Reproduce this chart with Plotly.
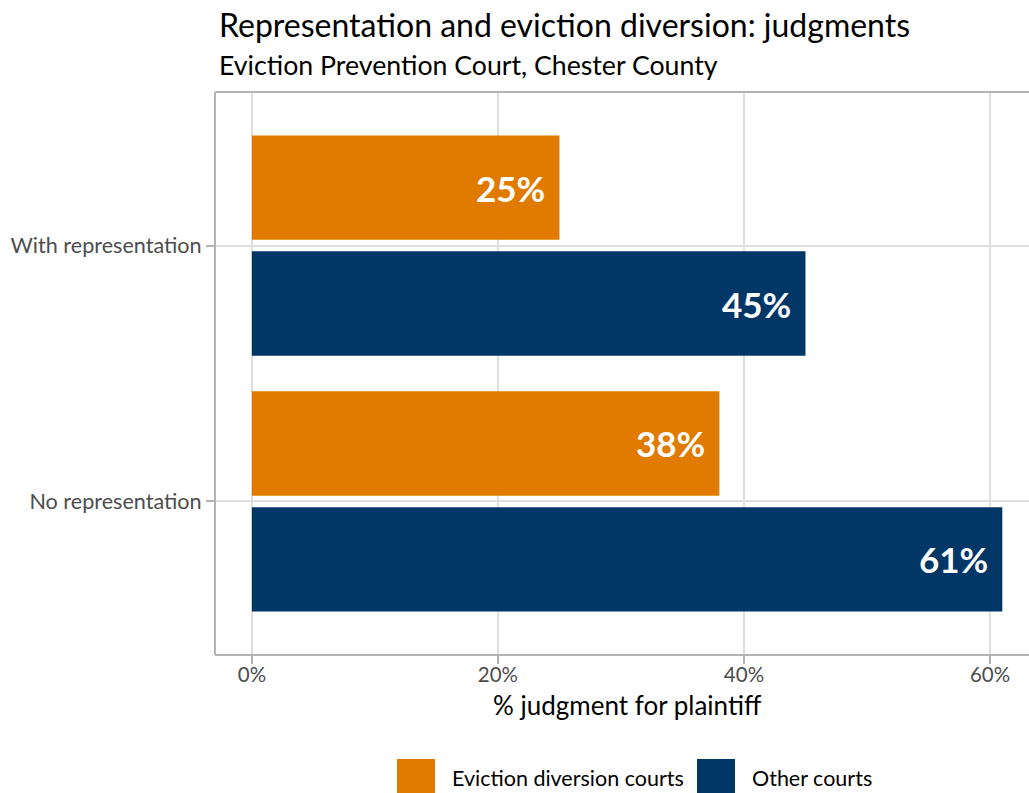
import plotly.graph_objects as go

# Data: share of cases ending in a judgment for the plaintiff (%)
categories = ["No representation", "With representation"]
diversion_courts = [38, 25]   # Eviction diversion courts
other_courts = [61, 45]       # Other courts
x_ticks = [0, 20, 40, 60]
x_tick_labels = ["0%", "20%", "40%", "60%"]

ORANGE = "#E07B00"
NAVY = "#003767"
FONT = "Lato"

W, H = 1029, 793
M_L, M_R, M_T, M_B = 215, 0, 92, 138
PLOT_W = W - M_L - M_R
PLOT_H = H - M_T - M_B


def px_x(p):
    return (p - M_L) / PLOT_W


def px_y(p):
    return (H - M_B - p) / PLOT_H


BAR_W = 0.408
HALF_GAP = 0.0225

fig = go.Figure()
fig.add_trace(go.Bar(
    y=categories, x=diversion_courts, orientation="h",
    name="Eviction diversion courts", marker=dict(color=ORANGE, line_width=0),
    width=BAR_W, offset=HALF_GAP, showlegend=False, hoverinfo="x+name",
))
fig.add_trace(go.Bar(
    y=categories, x=other_courts, orientation="h",
    name="Other courts", marker=dict(color=NAVY, line_width=0),
    width=BAR_W, offset=-HALF_GAP - BAR_W, showlegend=False, hoverinfo="x+name",
))

# Value labels inside the bar ends
annotations = []
for vals, off in [(diversion_courts, HALF_GAP + BAR_W / 2), (other_courts, -HALF_GAP - BAR_W / 2)]:
    for i, v in enumerate(vals):
        annotations.append(dict(
            x=v, y=i + off, xref="x", yref="y", text=f"<b>{v}%</b>",
            showarrow=False, xanchor="right", yanchor="middle", xshift=-12,
            font=dict(family=FONT, size=35, color="white"),
        ))

# Title, subtitle and axis title
annotations += [
    dict(x=0.0025, y=px_y(25), xref="paper", yref="paper", xanchor="left", yanchor="middle",
         text="Representation and eviction diversion: judgments", showarrow=False,
         font=dict(family=FONT, size=32, color="black")),
    dict(x=0.0025, y=px_y(65), xref="paper", yref="paper", xanchor="left", yanchor="middle",
         text="Eviction Prevention Court, Chester County", showarrow=False,
         font=dict(family=FONT, size=26.7, color="black")),
    dict(x=px_x(627), y=px_y(705), xref="paper", yref="paper", xanchor="center", yanchor="middle",
         text="% judgment for plaintiff", showarrow=False,
         font=dict(family=FONT, size=26, color="black")),
]

# Legend drawn as keys + labels below the panel
shapes = []
legend_items = [(ORANGE, "Eviction diversion courts", 397), (NAVY, "Other courts", 697)]
for color, label, left in legend_items:
    shapes.append(dict(type="rect", xref="paper", yref="paper",
                       x0=px_x(left), x1=px_x(left + 38), y0=px_y(797), y1=px_y(759),
                       fillcolor=color, line_width=0, layer="above"))
    annotations.append(dict(x=px_x(left + 53), y=px_y(778), xref="paper", yref="paper",
                            xanchor="left", yanchor="middle", text=label, showarrow=False,
                            font=dict(family=FONT, size=21.5, color="black")))

# Panel border: left, top and bottom edges
BORDER = "#B3B3B3"
for x0, y0, x1, y1 in [(0, 0, 0, 1), (0, 1, 1, 1), (0, 0, 1, 0)]:
    shapes.append(dict(type="line", xref="paper", yref="paper", x0=x0, y0=y0, x1=x1, y1=y1,
                       line=dict(color=BORDER, width=2), layer="above"))

fig.update_layout(
    width=W, height=H,
    margin=dict(l=M_L, r=M_R, t=M_T, b=M_B),
    paper_bgcolor="white", plot_bgcolor="white",
    barmode="overlay",
    font=dict(family=FONT),
    annotations=annotations,
    shapes=shapes,
    xaxis=dict(
        range=[-3.0, 63.17], tickvals=x_ticks, ticktext=x_tick_labels,
        showgrid=True, gridcolor="#DEDEDE", gridwidth=1.5, zeroline=False,
        ticks="outside", ticklen=8, tickwidth=2, tickcolor=BORDER,
        tickfont=dict(family=FONT, size=20.5, color="#4D4D4D"), showline=False,
        ticklabelstandoff=-7,
    ),
    yaxis=dict(
        type="category", categoryorder="array", categoryarray=categories,
        range=[-0.6, 1.6],
        showgrid=True, gridcolor="#DEDEDE", gridwidth=1.5, zeroline=False,
        ticks="outside", ticklen=8, tickwidth=2, tickcolor=BORDER,
        tickfont=dict(family=FONT, size=21.6, color="#4D4D4D"), showline=False,
    ),
)

fig.write_html("out.html")
